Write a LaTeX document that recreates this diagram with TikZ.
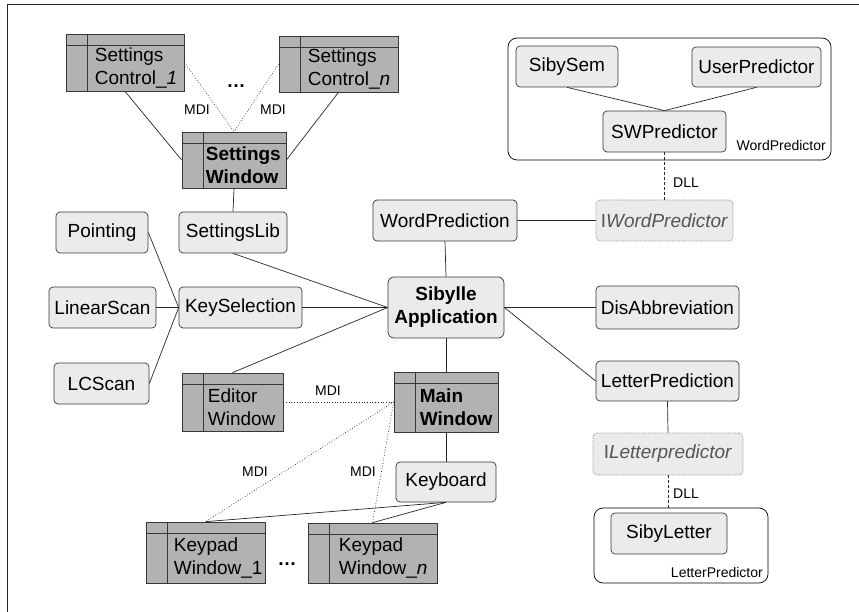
\documentclass[tikz,border=0pt]{standalone}
\usepackage{fontspec}
\setmainfont{Liberation Sans}
\definecolor{boxfill}{RGB}{235,235,235}
\definecolor{winfill}{RGB}{178,178,178}
\definecolor{boxline}{RGB}{55,55,55}
\definecolor{ifline}{RGB}{130,130,130}
\definecolor{iftext}{RGB}{85,85,85}
\tikzset{
  mod/.style={draw=boxline, fill=boxfill, line width=0.7pt, rounded corners=4pt,
    minimum height=41pt, inner sep=0pt, font=\fontsize{19}{23}\selectfont},
  iface/.style={mod, draw=ifline, densely dotted, text=iftext},
  win/.style={draw=boxline, fill=winfill, line width=0.7pt, minimum height=57pt, inner sep=0pt,
    path picture={
      \draw[boxline, line width=0.7pt] ([yshift=-11pt]path picture bounding box.north west) -- ([yshift=-11pt]path picture bounding box.north east);
      \draw[boxline, line width=0.7pt] ([xshift=21pt]path picture bounding box.north west) -- ([xshift=21pt]path picture bounding box.south west);}},
  wintext/.style={anchor=west, align=left, inner sep=0pt, font=\fontsize{19}{23}\selectfont},
  group/.style={draw=black, line width=0.7pt, rounded corners=9pt, inner sep=0pt},
  lbl/.style={inner sep=1pt, font=\fontsize{14}{16}\selectfont},
  dotsym/.style={inner sep=0pt, font=\fontsize{19}{23}\selectfont\bfseries},
  link/.style={draw=black!85, line width=0.7pt},
  mdi/.style={link, dotted},
  dll/.style={link, dash pattern=on 3pt off 2pt}
}
\begin{document}
\begin{tikzpicture}[x=1pt, y=-1pt]
\useasboundingbox (0,0) rectangle (859,612);
\draw[black!85, line width=0.8pt] (7,612) -- (7,4) -- (859,4);

\node[win, minimum width=118pt] (sc1) at (125,62.5) {};
\node[wintext] (sc1t) at ([xshift=29pt, yshift=-5.5pt]sc1.west) {Settings\\Control\_\textit{1}};
\node[win, minimum width=119pt, minimum height=56pt] (scn) at (338.5,64) {};
\node[wintext] (scnt) at ([xshift=29pt, yshift=-5.5pt]scn.west) {Settings\\Control\_\textit{n}};
\node[win, minimum width=104pt, minimum height=56pt] (sw) at (234,160) {};
\node[wintext, font=\fontsize{19}{23}\selectfont\bfseries] (swt) at ([xshift=24pt, yshift=-5.5pt]sw.west) {Settings\\Window};
\node[win, minimum width=101pt, minimum height=58pt] (editor) at (232.5,402) {};
\node[wintext] (editort) at ([xshift=26pt, yshift=-5.5pt]editor.west) {Editor\\Window};
\node[win, minimum width=104pt, minimum height=60pt] (mw) at (446,402) {};
\node[wintext, font=\fontsize{19}{23}\selectfont\bfseries] (mwt) at ([xshift=26pt, yshift=-5.5pt]mw.west) {Main\\Window};
\node[win, minimum width=119pt, minimum height=61pt] (kw1) at (205.5,552.5) {};
\node[wintext] (kw1t) at ([xshift=28pt, yshift=-5.5pt]kw1.west) {Keypad\\Window\_1};
\node[win, minimum width=129pt, minimum height=60pt] (kwn) at (372.5,553) {};
\node[wintext] (kwnt) at ([xshift=31pt, yshift=-5.5pt]kwn.west) {Keypad\\Window\_\textit{n}};

\node[mod, minimum width=92pt] (point) at (102,232.5) {Pointing};
\node[mod, minimum width=108pt] (slib) at (233,232.5) {SettingsLib};
\node[mod, minimum width=107pt] (linscan) at (102.5,307.5) {LinearScan};
\node[mod, minimum width=123pt] (keysel) at (240.5,307.5) {KeySelection};
\node[mod, minimum width=95pt] (lcscan) at (101.5,383.5) {LCScan};
\node[mod, minimum width=144pt] (wordpred) at (445,220.5) {WordPrediction};
\node[mod, minimum width=116pt, minimum height=61pt, rounded corners=6pt, align=center,
  font=\fontsize{19}{23}\selectfont\bfseries] (app) at (446,307.5) {Sibylle\\Application};
\node[mod, minimum width=143pt, minimum height=43pt] (disabbr) at (667.5,307.5) {DisAbbreviation};
\node[mod, minimum width=143pt, minimum height=40pt] (letterpred) at (667.5,381) {LetterPrediction};
\node[mod, minimum width=100pt, minimum height=40pt] (keyb) at (446,482) {Keyboard};
\node[mod, minimum width=102pt] (sibysem) at (567,66.5) {SibySem};
\node[mod, minimum width=129pt, minimum height=40pt] (userpred) at (756.5,67) {UserPredictor};
\node[mod, minimum width=123pt] (swpred) at (664.5,131.5) {SWPredictor};
\node[mod, minimum width=116pt] (sibylet) at (669,533.5) {SibyLetter};
\node[iface, minimum width=137pt] (iwordpred) at (664.5,220.5) {I\textit{WordPredictor}};
\node[iface, minimum width=150pt, minimum height=42pt] (iletpred) at (668,454) {I\textit{Letterpredictor}};
\node[group, minimum width=323pt, minimum height=122pt] (wpgroup) at (669.5,99) {};
\node[group, minimum width=174pt, minimum height=75pt] (lpgroup) at (681,545.5) {};

\draw[link] (sc1.south) -- (sw.west);
\draw[link] (scn.south) -- (sw.east);
\draw[mdi] (sc1.east) -- (sw.north);
\draw[mdi] (scn.west) -- (sw.north);
\draw[link] (sw.south) -- (slib.north);
\foreach \n in {point, linscan, lcscan} \draw[link] (\n.east) -- (keysel.west);
\foreach \n in {slib.south, keysel.east, editor.north} \draw[link] (\n) -- (app.west);
\draw[link] (wordpred.south) -- (app.north);
\draw[link] (wordpred.east) -- (iwordpred.west);
\draw[link] (app.east) -- (disabbr.west);
\draw[link] (app.east) -- (letterpred.west);
\draw[link] (app.south) -- (mw.north);
\draw[mdi] (editor.east) -- (mw.west);
\draw[mdi] (mw.west) -- (kw1.north);
\draw[mdi] (mw.west) -- (kwn.north);
\draw[link] (mw.south) -- (keyb.north);
\draw[link] (keyb.south) -- (kw1.north);
\draw[link] (keyb.south) -- (kwn.north);
\draw[link] (sibysem.south) -- (swpred.north);
\draw[link] (userpred.south) -- (swpred.north);
\draw[dll] (swpred.south) -- (iwordpred.north);
\draw[link] (letterpred.south) -- (iletpred.north);
\draw[dll] (iletpred.south) -- (iletpred.south |- lpgroup.north);

\node[lbl] (mdi1) at (197,110) {MDI};
\node[lbl] (mdi2) at (273,110) {MDI};
\node[lbl] (mdi3) at (328,391) {MDI};
\node[lbl] (mdi4) at (255,472) {MDI};
\node[lbl] (mdi5) at (363,472) {MDI};
\node[lbl, anchor=west] (dll1) at (672,183) {DLL};
\node[lbl, anchor=west] (dll2) at (672,494) {DLL};
\node[lbl, anchor=east] (wpname) at (827,145) {WordPredictor};
\node[lbl, anchor=east] (lpname) at (764,572) {LetterPredictor};
\node[dotsym] (scdots) at (236,86) {\dots};
\node[dotsym] (kwdots) at (287,564) {\dots};
\end{tikzpicture}
\end{document}
